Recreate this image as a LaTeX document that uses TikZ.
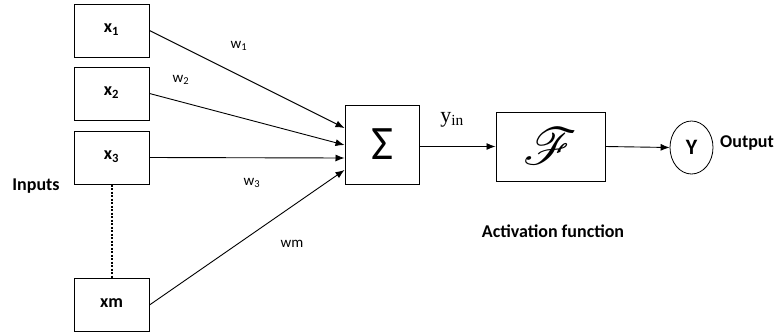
\documentclass[tikz,border=0pt]{standalone}
\usepackage{amsmath}
\usepackage{mathrsfs}
\usepackage{fontspec}
\setmainfont{Carlito}
\newfontfamily\yinfont{Liberation Serif}
\usetikzlibrary{arrows.meta,shapes.geometric}
\tikzset{
	inbox/.style={draw,rectangle,minimum width=75pt,minimum height=53pt,line width=1pt,font=\fontsize{18}{18}\selectfont\bfseries},
	wlabel/.style={font=\fontsize{15}{15}\selectfont},
	biglabel/.style={font=\fontsize{18}{18}\selectfont\bfseries},
	wire/.style={->,line width=0.9pt}
}
\begin{document}
\begin{tikzpicture}[x=1pt,y=-1pt,>={Latex[length=9pt,width=7pt]}]
			\useasboundingbox (0,0) rectangle (776,335);
			\node[inbox] (x1) at (111.5,30.5){\raisebox{4pt}{x\textsubscript{1}}};
			\node[inbox] (x2) at (111.5,93.5){\raisebox{4pt}{x\textsubscript{2}}};
			\node[inbox] (x3) at (111.5,157.5){\raisebox{4pt}{x\textsubscript{3}}};
			\node[inbox] (xm) at (111.5,305){\raisebox{4pt}{xm}};
			\node[draw,rectangle,minimum width=74pt,minimum height=79pt,line width=1pt,font=\fontsize{48}{48}\selectfont] (sum) at (382,144.5){Σ};
			\node[draw,rectangle,minimum width=109pt,minimum height=69pt,line width=1pt,inner sep=0pt] (act) at (550.5,146.5){\scalebox{5.2}{$\mathscr{F}$}};
			\node[draw,ellipse,minimum width=43pt,minimum height=53pt,inner sep=0pt,line width=0.8pt,font=\fontsize{22}{22}\selectfont\bfseries] (out) at (691.5,147.5){Y};
			% text labels
			\node[biglabel] (inputs) at (36,186){Inputs};
			\node[biglabel] (actlabel) at (553,231){Activation function};
			\node[biglabel] (outlabel) at (747,143){Output};
			\node[wlabel] (w1) at (239,46){w\textsubscript{1}};
			\node[wlabel] (w2) at (181,80){w\textsubscript{2}};
			\node[wlabel] (w3) at (252,183){w\textsubscript{3}};
			\node[wlabel] (wm) at (292,244){wm};
			\node[font=\fontsize{22}{22}\selectfont\yinfont] (yin) at (452,120){y\textsubscript{in}};
			% connectors
			\draw[wire] (x1.east) -- ([yshift=16.5pt]sum.west);
			\draw[wire] (x2.east) -- ([yshift=-0.5pt]sum.west);
			\draw[wire] (x3.east) -- ([yshift=-13.5pt]sum.west);
			\draw[wire] (xm.east) -- ([yshift=-25.5pt]sum.west);
			\draw[dash pattern=on 2pt off 1.5pt,line width=2pt] (x3.south) -- (xm.north);
			\draw[wire] (sum.east |- act.west) -- (act.west);
			\draw[wire] (act.east) -- (out.west);
		\end{tikzpicture}
\end{document}
